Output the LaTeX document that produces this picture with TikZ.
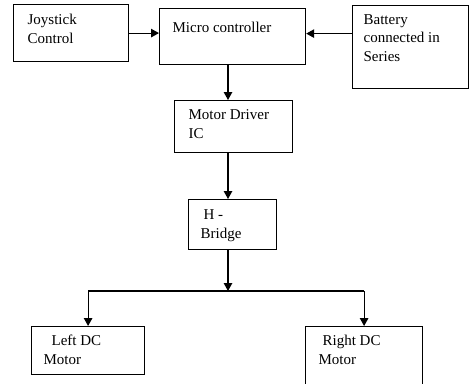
\documentclass[tikz,border=0pt]{standalone}
\usepackage{fontspec}
\setmainfont{Liberation Serif}
\usetikzlibrary{arrows.meta}
\tikzstyle{block}=[draw=black,anchor=north west,inner sep=0pt]
\tikzstyle{txt}=[anchor=base west,align=left,inner sep=0pt,font=\fontsize{15}{18.5}\selectfont]
\tikzstyle{flow}=[-{Triangle[width=8.5pt,length=8pt]}]

\begin{document}
\begin{tikzpicture}[x=1pt,y=-1pt,line width=1.2pt]
\clip (0,0) rectangle (470,383);
%\draw[step=10,gray,very thin] (0,0) grid (470,383);
\node[block,minimum width=115pt,minimum height=57pt] (joy) at (13,4){};
\node[block,minimum width=146pt,minimum height=56pt] (mcu) at (159,8){};
\node[block,minimum width=116pt,minimum height=83pt] (bat) at (352,5){};
\node[block,minimum width=118pt,minimum height=52pt] (drv) at (174,100){};
\node[block,minimum width=88pt,minimum height=50pt] (hb) at (188,199){};
\node[block,minimum width=113pt,minimum height=48pt] (left) at (31,326){};
\node[block,minimum width=117pt,minimum height=70pt] (right) at (305,326){};

% base of a multi-line node is its last line
\node[txt] (joytxt) at (27,43) {Joystick\\Control};
\node[txt] (mcutxt) at (172,32) {Micro controller};
\node[txt] (battxt) at (363,61) {Battery\\connected in\\Series};
\node[txt] (drvtxt) at (188,138) {Motor Driver\\IC};
\node[txt] (hbtxt) at (200,238) {\hspace*{3pt}H -\\Bridge};
\node[txt] (lefttxt) at (43,364) {\hspace*{8pt}Left DC\\Motor};
\node[txt] (righttxt) at (318,364) {\hspace*{4pt}Right DC\\Motor};

\coordinate (spine) at (228,0);
\coordinate (split) at (228,291);
\coordinate (batin) at ([yshift=13.5pt]bat.west);

\draw[flow] (joy.east) -- (joy.east -| mcu.west);
\draw[flow] (batin) -- (batin -| mcu.east);
\draw[flow] (spine |- mcu.south) -- (spine |- drv.north);
\draw[flow] (spine |- drv.south) -- (spine |- hb.north);
\draw[flow] (spine |- hb.south) -- (split);
\draw (split -| left.north) -- (split -| right.north);
\draw[flow] (split -| left.north) -- (left.north);
\draw[flow] (split -| right.north) -- (right.north);

\end{tikzpicture}
\end{document}
